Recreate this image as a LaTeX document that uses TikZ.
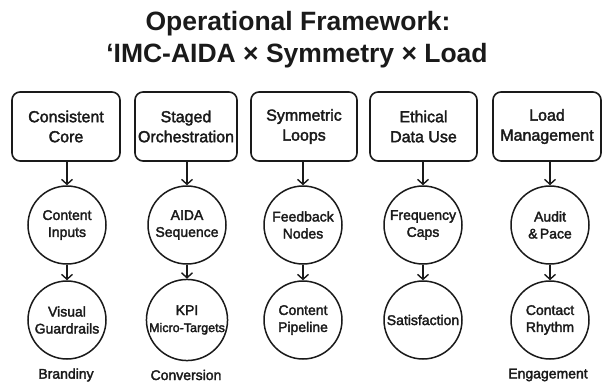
\documentclass[tikz,border=0pt]{standalone}
\usepackage{fontspec}
\setmainfont{Liberation Sans}
\newfontfamily\medfont{Liberation Sans}[UprightFeatures={FakeBold=2.2}]
\usetikzlibrary{arrows.meta}
\definecolor{ink}{HTML}{1A1A1A}
\begin{document}
\begin{tikzpicture}[x=1pt,y=-1pt,
  boxnode/.style={draw=ink,line width=1.6pt,rounded corners=8pt,minimum height=69pt,inner sep=0pt,align=center,font=\medfont\fontsize{16}{20}\selectfont,text=ink},
  circnode/.style={draw=ink,line width=1.5pt,circle,minimum size=78pt,inner sep=0pt,align=center,font=\medfont\fontsize{14}{17}\selectfont,text=ink},
  arr/.style={draw=ink,line width=1.4pt,-{Straight Barb[length=5pt,width=11pt,line width=1.4pt]}},
  lbl/.style={font=\medfont\fontsize{14}{17}\selectfont,text=ink},
  ttl/.style={font=\bfseries\fontsize{26.5}{32}\selectfont,text=ink,anchor=base,inner sep=0pt}
]
\useasboundingbox (0,0) rectangle (605,386);
\fill[white] (0,0) rectangle (605,386);
\node[ttl] (title1) at (298,30) {Operational Framework:};
\node[ttl] (title2) at (297,62) {‘IMC-AIDA × Symmetry × Load};

\node[boxnode,minimum width=108pt] (b1) at (66,126.5) {Consistent\\Core};
\node[boxnode,minimum width=102pt] (b2) at (186,126.5) {Staged\\Orchestration};
\node[boxnode,minimum width=106pt] (b3) at (304,126.5) {Symmetric\\Loops};
\node[boxnode,minimum width=107pt] (b4) at (423.5,126.5) {Ethical\\Data Use};
\node[boxnode,minimum width=108pt] (b5) at (547,126.5) {Load\\Management};

\node[circnode] (c1) at (67,225) {Content\\Inputs};
\node[circnode] (c2) at (187,225) {AIDA\\Sequence};
\node[circnode] (c3) at (303,225) {Feedback\\Nodes};
\node[circnode] (c4) at (423,225) {Frequency\\Caps};
\node[circnode] (c5) at (550,225) {Audit\\\&\,Pace};

\node[circnode] (d1) at (67,320) {Visual\\Guardrails};
\node[circnode] (d2) at (187,320) {KPI\\{\fontsize{12.5}{17}\selectfont Micro-Targets}};
\node[circnode] (d3) at (303,320) {Content\\Pipeline};
\node[circnode] (d4) at (423,320) {Satisfaction};
\node[circnode] (d5) at (550,320) {Contact\\Rhythm};

\foreach \i in {1,...,5}{
  \draw[arr] (b\i.south -| c\i) -- (c\i.north);
  \draw[arr] (c\i.south) -- (d\i.north);
}

\node[lbl] (l1) at (66,375) {Brandiny};
\node[lbl] (l2) at (186,375) {Conversion};
\node[lbl] (l5) at (548,375) {Engagement};
\end{tikzpicture}
\end{document}
